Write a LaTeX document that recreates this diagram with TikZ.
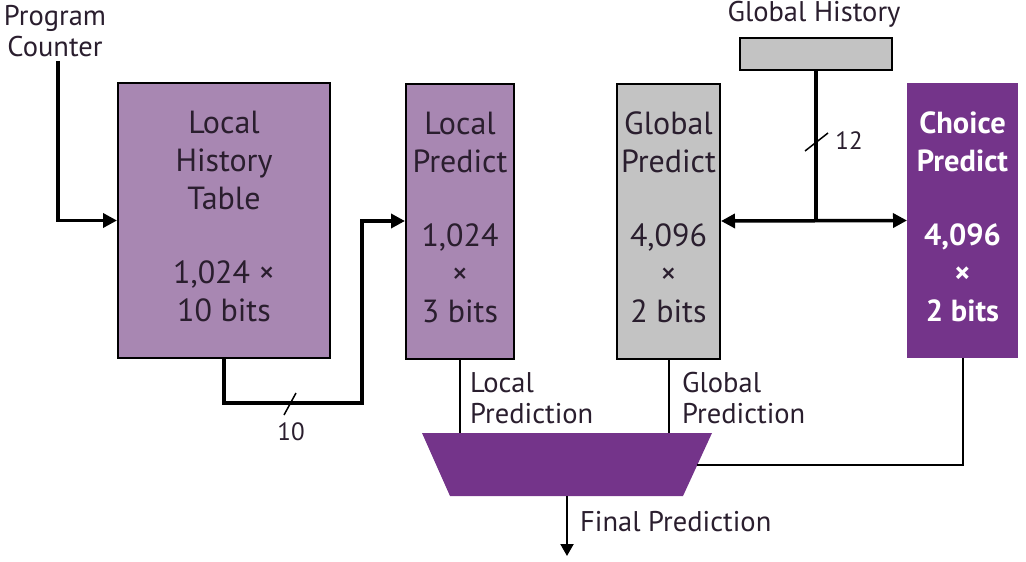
\documentclass[tikz,border=0pt]{standalone}
\usepackage{fontspec}
\setmainfont{PT Sans}
\usetikzlibrary{arrows.meta}
\definecolor{lpurple}{HTML}{A887B2}
\definecolor{dpurple}{HTML}{74348A}
\definecolor{gbox}{HTML}{C3C3C3}
\definecolor{btext}{HTML}{2A1E2E}
\begin{document}
\begin{tikzpicture}[x=1pt,y=-1pt,
 box/.style={draw=black, line width=2pt, inner sep=0pt},
 boxtext/.style={align=center, inner sep=0pt, font=\fontsize{32}{38}\selectfont, text=btext},
 wire/.style={line width=3.5pt},
 thinwire/.style={line width=2pt},
 lbl/.style={font=\fontsize{28.5}{31}\selectfont, align=left, inner sep=0pt, text=btext},
 arr/.style={-{Triangle[length=14pt,width=14pt]}},
 arrboth/.style={{Triangle[length=14pt,width=14pt]}-{Triangle[length=14pt,width=14pt]}},
 tick/.style={line width=1.5pt},
 ticklbl/.style={font=\fontsize{25}{28}\selectfont, inner sep=0pt, text=btext}
]
\useasboundingbox (0,0) rectangle (1026,562);

% labels
\node[lbl, align=center] (pc) at (55,31) {Program\\Counter};
\node[lbl, align=center] (ghl) at (814,14) {Global History};

% boxes
\node[box, fill=lpurple, minimum width=212pt, minimum height=275pt] (lht) at (224,220.5) {};
\node[box, fill=lpurple, minimum width=108pt, minimum height=275pt] (lp) at (460,221) {};
\node[box, fill=gbox, minimum width=103pt, minimum height=275pt] (gp) at (668.5,221) {};
\node[box, fill=dpurple, draw=dpurple, minimum width=109pt, minimum height=273pt] (cp) at (962.5,220.5) {};
\node[box, fill=gbox, minimum width=152pt, minimum height=32pt] (gh) at (816,54) {};

\node[boxtext] (lhtT) at ([yshift=4pt]lht.center)
  {Local\\History\\Table\\[36pt]1,024 ×\\10 bits};
\node[boxtext] (lpT) at ([yshift=4pt]lp.center)
  {Local\\Predict\\[36pt]1,024\\×\\3 bits};
\node[boxtext] (gpT) at ([yshift=4pt]gp.center)
  {Global\\Predict\\[36pt]4,096\\×\\2 bits};
\node[boxtext, text=white, font=\fontsize{30.5}{38}\selectfont\bfseries] (cpT) at ([yshift=4pt]cp.center)
  {Choice\\Predict\\[36pt]4,096\\×\\2 bits};

% PC to LHT
\draw[wire, arr] ([xshift=3pt]pc.south) ++(0,4) |- (lht.west);

% LHT to Local Predict
\coordinate (k) at (362,403);
\draw[wire, arr] (lht.south) |- (k) |- (lp.west);
\coordinate (t10a) at (284,415);
\coordinate (t10b) at (296,393);
\draw[tick] (t10a) -- (t10b);
\node[ticklbl] (n10) at (291,432) {10};

% Global history distribution
\coordinate (j) at (816,221);
\draw[wire] (gh.south) -- (j);
\draw[wire, arrboth] (gp.east) -- (cp.west);
\coordinate (t12a) at (805,151);
\coordinate (t12b) at (828,133);
\draw[tick] (t12a) -- (t12b);
\node[ticklbl] (n12) at (849,141) {12};

% Mux
\coordinate (m1) at (422,433);
\coordinate (m2) at (712,433);
\coordinate (m3) at (683,496);
\coordinate (m4) at (450,496);
\fill[dpurple] (m1) -- (m2) -- (m3) -- (m4) -- cycle;
\coordinate (lpin) at (460,433);
\coordinate (gpin) at (668.5,433);
\coordinate (cpin) at (697,465);
\coordinate (mout) at (567,496);
\coordinate (fin) at (567,556);

\draw[thinwire] (lp.south) -- (lpin);
\draw[thinwire] (gp.south) -- (gpin);
\draw[thinwire] (cp.south) |- (cpin);
\draw[thinwire, -{Triangle[length=12pt,width=13pt]}] (mout) -- (fin);

\node[lbl, anchor=west] (lpl) at (470,398) {Local\\Prediction};
\node[lbl, anchor=west] (gpl) at (682,398) {Global\\Prediction};
\node[lbl, anchor=west] (fpl) at (580,522) {Final Prediction};
\end{tikzpicture}
\end{document}
